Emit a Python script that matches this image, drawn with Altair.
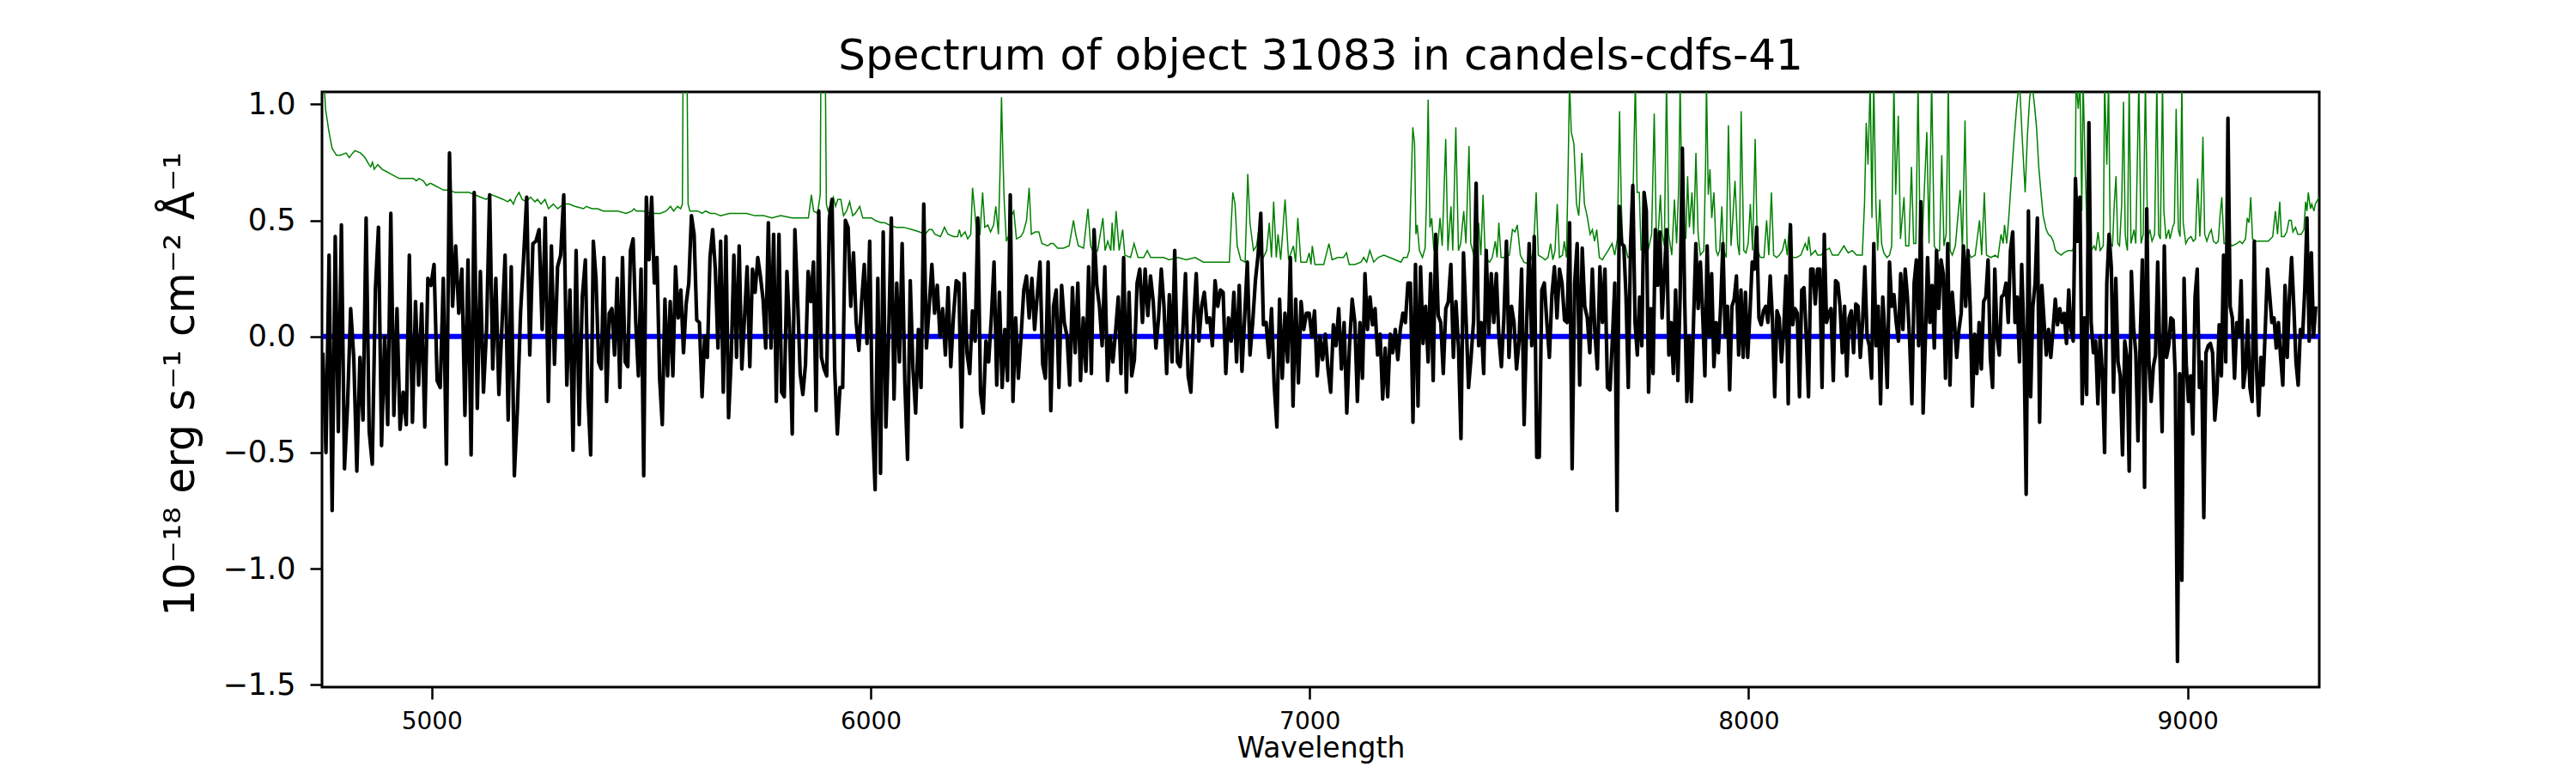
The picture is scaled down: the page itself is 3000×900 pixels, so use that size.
import altair as alt
import numpy as np
import pandas as pd

# ---------------- data ----------------
# Black spectrum: flux values per wavelength segment (evenly spread inside each segment)
SEG_EDGES = [4752, 5350, 5930, 6515, 7103, 7690, 8275, 8862, 9292]

FLUX_1 = [-0.07, -0.50, 0.35, -0.75, 0.43, -0.41, 0.48, -0.57, -0.29, 0.12,
          -0.09, -0.58, -0.09, -0.36, 0.51, -0.41, -0.55, 0.20, 0.47, -0.47,
          0.00, -0.38, 0.53, -0.34, 0.12, -0.40, -0.24, -0.38, 0.35, -0.37,
          0.15, -0.21, 0.14, -0.39, 0.25, 0.22, 0.31, -0.19, -0.22, 0.25,
          -0.55, 0.79, 0.13, 0.39, 0.10, 0.29, -0.34, 0.33, -0.51, 0.62,
          -0.31, 0.28, -0.24, 0.03, 0.61, -0.14, 0.25, -0.25, 0.05, 0.35,
          -0.36, 0.30, -0.60, -0.31, 0.10, 0.34, 0.60, -0.08, 0.40, 0.41,
          0.46, 0.03, 0.51, -0.28, 0.39, -0.12, 0.30, 0.35, 0.61, -0.21,
          0.20, -0.49, 0.37, -0.38, 0.17]

FLUX_2 = [0.33, -0.26, -0.51, 0.41, 0.25, -0.11, -0.14, 0.34, -0.28, 0.10,
          0.12, -0.08, 0.25, -0.22, 0.34, -0.11, -0.13, 0.37, 0.42, 0.06,
          -0.17, 0.29, -0.60, 0.60, 0.33, 0.60, 0.23, 0.34, -0.18, -0.38,
          0.16, -0.17, 0.15, -0.17, 0.30, 0.08, 0.20, -0.07, 0.14, 0.23,
          0.52, 0.44, 0.07, 0.06, -0.26, 0.00, -0.09, 0.34, 0.46, 0.29,
          -0.05, 0.41, -0.24, 0.43, -0.35, -0.09, 0.35, -0.09, 0.39, -0.14,
          0.08, 0.30, -0.13, 0.29, 0.19, 0.34, 0.26, 0.16, -0.05, 0.49,
          -0.05, 0.44, -0.28, 0.44, -0.24, -0.26, 0.28, 0.03, -0.42, 0.46,
          0.17, -0.16, -0.25, -0.12, 0.28, 0.15, 0.32, -0.32, 0.54, -0.09,
          -0.14, -0.17, 0.51, 0.59, -0.14, -0.42]

FLUX_3 = [-0.22, -0.22, 0.50, 0.47, 0.13, 0.36, 0.06, -0.06, 0.15, 0.31,
          -0.03, 0.41, -0.36, -0.66, 0.25, -0.59, 0.45, -0.39, 0.00, 0.51,
          -0.27, 0.23, -0.11, 0.40, -0.20, -0.53, 0.24, -0.14, -0.33, 0.03,
          -0.22, 0.57, -0.05, 0.13, 0.31, 0.10, 0.22, 0.00, 0.12, -0.08,
          0.21, -0.13, 0.09, 0.24, 0.23, -0.39, 0.27, -0.07, -0.16, 0.11,
          -0.02, 0.51, -0.24, -0.33, -0.02, -0.11, 0.08, 0.32, -0.21, 0.19,
          -0.22, 0.03, -0.19, 0.61, -0.28, 0.08, -0.18, 0.00, 0.20, 0.26,
          0.08, 0.25, 0.03, 0.18, 0.32, -0.12, -0.18, 0.32, -0.32, 0.13,
          0.20, -0.22, 0.22, 0.06, 0.00, -0.21, 0.21, -0.07, 0.23, -0.19,
          0.08, -0.15, 0.30, -0.16, 0.46]

FLUX_4 = [0.22, 0.13, -0.04, 0.30, -0.19, 0.00, -0.11, 0.02, 0.17, -0.16,
          0.34, -0.24, 0.19, -0.17, -0.10, 0.23, 0.29, 0.06, 0.29, 0.09,
          0.26, 0.15, -0.05, 0.08, 0.29, 0.13, -0.16, 0.18, -0.11, 0.37,
          -0.11, -0.13, 0.02, 0.27, -0.17, -0.24, 0.06, 0.27, -0.02, 0.13,
          0.19, 0.06, 0.08, -0.04, 0.24, 0.13, 0.20, 0.19, -0.16, 0.08,
          -0.02, 0.19, -0.11, 0.22, -0.15, 0.08, 0.32, -0.08, 0.06, 0.24,
          0.35, 0.53, 0.05, 0.06, -0.09, 0.12, -0.21, -0.39, 0.16, -0.18,
          0.10, -0.11, 0.34, -0.30, 0.16, -0.20, 0.15, 0.03, 0.10, 0.10,
          0.00, 0.11, -0.17, 0.00, -0.10, 0.01, -0.14, -0.24, 0.05, -0.04,
          0.12, -0.14, 0.06, -0.33, -0.04, 0.16]

FLUX_5 = [0.06, -0.28, 0.06, -0.18, 0.27, 0.03, 0.17, 0.05, 0.12, -0.08,
          0.01, -0.27, -0.05, -0.26, 0.01, -0.07, 0.03, -0.10, 0.03, 0.10,
          0.06, 0.23, 0.23, -0.37, 0.31, -0.30, 0.30, -0.03, 0.13, -0.11,
          0.27, -0.19, 0.44, 0.09, 0.06, -0.16, 0.12, 0.15, 0.31, -0.09,
          0.15, -0.04, -0.44, 0.36, 0.08, -0.22, -0.09, 0.07, 0.66, -0.04,
          0.06, -0.16, 0.37, 0.01, 0.27, 0.06, 0.27, 0.00, -0.13, 0.08,
          0.41, -0.09, 0.13, 0.06, -0.14, -0.02, 0.29, -0.38, 0.06, 0.40,
          -0.04, 0.43, -0.52, -0.52, 0.20, 0.23, 0.06, -0.09, 0.18, 0.30,
          0.08, 0.29, 0.23, 0.07, 0.06, 0.49, -0.57, 0.23, 0.40, -0.21,
          0.38, 0.13, 0.08, -0.07, 0.29, 0.02, -0.14, 0.30, 0.06, 0.29,
          -0.22, -0.23]

FLUX_6 = [0.00, 0.23, -0.75, 0.56, 0.40, 0.39, 0.17, -0.22, 0.39, 0.65,
          0.06, -0.08, 0.17, -0.04, 0.62, 0.54, -0.24, 0.12, -0.16, 0.46,
          0.22, 0.45, 0.08, 0.27, 0.46, -0.08, 0.06, -0.16, 0.20, -0.19,
          0.17, 0.81, 0.17, -0.28, 0.00, -0.28, 0.08, 0.40, 0.12, 0.32,
          0.10, -0.17, 0.39, 0.00, 0.27, -0.13, 0.06, -0.07, 0.13, 0.40,
          0.00, 0.13, -0.23, 0.13, 0.16, 0.26, -0.08, 0.20, -0.09, 0.19,
          -0.09, 0.10, 0.32, 0.29, 0.47, 0.08, 0.05, 0.11, 0.13, 0.06,
          0.26, 0.07, -0.26, 0.11, 0.08, -0.11, 0.03, 0.26, -0.29, 0.48,
          0.05, 0.12, 0.10, -0.26, 0.20, 0.21, 0.00, -0.26, 0.29, 0.29,
          0.14, 0.29, 0.29, -0.22, 0.44, 0.06, 0.10, 0.12, -0.19, 0.24,
          0.23, 0.13, -0.07, 0.13, -0.17, 0.08, 0.11, -0.07, 0.14, 0.13,
          -0.09, 0.06, 0.30, 0.00]

FLUX_7 = [-0.04, -0.18, 0.40, -0.04, 0.13, -0.29, 0.17, 0.00, -0.22, 0.32,
          0.13, 0.18, 0.06, -0.02, 0.27, 0.03, 0.29, 0.17, -0.02, -0.29,
          0.23, 0.33, -0.04, 0.58, -0.33, -0.02, 0.34, 0.06, 0.22, -0.05,
          0.37, 0.12, 0.33, 0.27, -0.18, 0.40, -0.21, 0.19, 0.06, -0.09,
          0.03, 0.10, 0.39, 0.13, 0.37, 0.13, -0.30, 0.01, -0.16, 0.06,
          -0.14, 0.15, 0.17, 0.33, -0.09, -0.22, 0.29, 0.00, -0.08, 0.17,
          0.18, 0.23, 0.06, 0.37, 0.45, 0.06, 0.17, -0.11, 0.31, 0.00,
          -0.68, 0.54, -0.26, 0.13, 0.23, 0.51, -0.37, 0.22, 0.06, -0.08,
          0.03, -0.09, 0.03, 0.16, 0.05, 0.12, 0.06, 0.10, -0.03, 0.20,
          0.03, -0.02, 0.68, 0.41, 0.60, -0.29, 0.08, -0.25, 0.92, 0.06,
          -0.07, -0.02, -0.29, 0.00, -0.16, -0.50, 0.23, 0.44, 0.30, -0.24,
          0.25, -0.11, -0.17, -0.51, -0.02]

FLUX_8 = [-0.09, -0.58, 0.28, 0.04, -0.07, -0.45, -0.02, 0.33, -0.65, 0.55,
          -0.11, -0.28, -0.13, -0.08, 0.32, -0.09, -0.41, 0.39, -0.09, -0.04,
          0.08, 0.07, -0.17, -1.40, -0.16, -1.05, 0.25, -0.12, -0.28, -0.17,
          -0.42, 0.17, 0.29, -0.22, -0.11, -0.78, -0.07, -0.04, -0.03, -0.07,
          -0.36, -0.24, 0.05, -0.17, 0.35, -0.11, 0.94, 0.13, 0.08, -0.18,
          0.06, 0.00, 0.24, -0.22, -0.14, 0.07, -0.22, -0.28, 0.41, -0.14,
          -0.34, -0.09, -0.21, 0.03, 0.29, 0.18, 0.06, 0.08, -0.05, 0.06,
          -0.09, -0.21, 0.22, -0.09, 0.17, 0.34, 0.13, -0.11, -0.21, 0.03,
          0.00, 0.20, 0.51, -0.02, 0.36, 0.00, 0.13]

# Green (sky / noise) spectrum: wavelengths and values
GREEN_WL = [
    4752, 4756, 4758, 4766, 4773, 4783, 4792, 4805, 4812, 4820, 4825, 4838, 4848, 4857, 4861,
    4865, 4869, 4877, 4887, 4897, 4906, 4916, 4926, 4936, 4949, 4958, 4965, 4971, 4981, 4988,
    4997, 5007, 5017, 5027, 5040, 5053, 5066, 5085, 5098, 5111, 5124, 5137, 5150, 5163, 5173,
    5179, 5186, 5192, 5199, 5206, 5215, 5225, 5235, 5241, 5249, 5258, 5266, 5277, 5287, 5300,
    5313, 5326, 5346,
    5352, 5365, 5378, 5391, 5404, 5424, 5443, 5456, 5461, 5466, 5482, 5502, 5521, 5534, 5544,
    5551, 5560, 5567, 5571, 5573, 5577, 5581, 5584, 5588, 5596, 5606, 5616, 5624, 5635, 5645,
    5658, 5678, 5697, 5717, 5736, 5756, 5775, 5795, 5821, 5847, 5858, 5865, 5870, 5879, 5885,
    5887, 5892, 5896, 5899, 5903, 5909, 5915, 5920, 5925,
    5932, 5938, 5945, 5952, 5959, 5965, 5975, 5982, 5993, 6002, 6010, 6023, 6032, 6042, 6058,
    6075, 6094, 6111, 6124, 6133, 6140, 6146, 6159, 6168, 6176, 6189, 6198, 6202, 6206, 6215,
    6221, 6228, 6232, 6237, 6242, 6249, 6255, 6260, 6267, 6273, 6280, 6285, 6291, 6295, 6298,
    6301, 6304, 6309, 6316, 6321, 6326, 6332, 6342, 6348, 6355, 6361, 6366, 6375, 6383, 6390,
    6403, 6410, 6416, 6426, 6439, 6452, 6462, 6467, 6473, 6485, 6495, 6501, 6508, 6517,
    6529, 6534, 6540, 6547, 6550, 6554, 6559, 6566, 6574, 6579, 6592, 6600, 6609, 6622, 6630,
    6638, 6654, 6667, 6680, 6700, 6719, 6739, 6758, 6784, 6817, 6822, 6825, 6830, 6835, 6843,
    6853, 6859, 6864, 6872, 6879, 6885, 6892, 6902, 6908, 6913, 6918, 6924, 6928, 6934, 6944,
    6952, 6963, 6968, 6973, 6980, 6993, 6999, 7003, 7006, 7012, 7032, 7044, 7051, 7064, 7077,
    7084, 7090, 7103,
    7117, 7123, 7130, 7137, 7146, 7156, 7169, 7182, 7195, 7208, 7214, 7222, 7227, 7230, 7235,
    7239, 7242, 7245, 7250, 7257, 7263, 7266, 7270, 7274, 7278, 7283, 7287, 7291, 7297, 7302,
    7310, 7315, 7322, 7326, 7333, 7339, 7344, 7351, 7356, 7363, 7367, 7374, 7380, 7385, 7390,
    7395, 7400, 7410, 7416, 7423, 7427, 7431, 7436, 7445, 7455, 7462, 7468, 7473, 7480, 7488,
    7501, 7510, 7516, 7521, 7530, 7536, 7543, 7549, 7554, 7559, 7564, 7569, 7576, 7580, 7585,
    7589, 7592, 7596, 7602, 7608, 7613, 7617, 7620, 7626, 7632, 7639, 7644, 7649, 7654, 7660,
    7667, 7673, 7680, 7689,
    7695, 7701, 7706, 7710, 7714, 7719, 7725, 7732, 7737, 7742, 7746, 7751, 7755, 7761, 7766,
    7771, 7779, 7785, 7790, 7795, 7799, 7803, 7808, 7813, 7818, 7825, 7831, 7836, 7841, 7844,
    7848, 7852, 7857, 7861, 7865, 7871, 7875, 7880, 7885, 7890, 7898, 7902, 7904, 7908, 7912,
    7916, 7921, 7926, 7930, 7934, 7939, 7943, 7949, 7954, 7960, 7964, 7969, 7975, 7979, 7983,
    7989, 7994, 7999, 8004, 8009, 8015, 8020, 8027, 8035, 8041, 8046, 8052, 8057, 8064, 8070,
    8077, 8083, 8088, 8093, 8100, 8109, 8119, 8129, 8134, 8137, 8142, 8152, 8157, 8165, 8175,
    8184, 8191, 8204, 8217, 8227, 8236, 8246, 8259, 8264, 8268, 8272,
    8277, 8281, 8285, 8290, 8294, 8299, 8303, 8308, 8315, 8321, 8326, 8331, 8335, 8341, 8346,
    8354, 8358, 8365, 8371, 8376, 8381, 8386, 8391, 8396, 8401, 8406, 8411, 8417, 8423, 8428,
    8435, 8440, 8445, 8450, 8455, 8459, 8464, 8471, 8482, 8487, 8493, 8498, 8507, 8516, 8526,
    8531, 8537, 8542, 8552, 8562, 8568, 8575, 8580, 8583, 8588, 8593, 8598, 8604, 8611, 8617,
    8624, 8630, 8635, 8640, 8645, 8651, 8656, 8661, 8666, 8671, 8678, 8683, 8689, 8694, 8699,
    8705, 8712, 8718, 8728, 8738, 8743, 8746, 8751, 8755, 8759, 8762, 8767, 8772, 8780, 8787,
    8791, 8796, 8801, 8808, 8811, 8816, 8820, 8824, 8829, 8833, 8837, 8841, 8845, 8850, 8854,
    8858, 8861,
    8863, 8867, 8871, 8878, 8882, 8889, 8894, 8899, 8904, 8909, 8914, 8919, 8925, 8930, 8934,
    8938, 8943, 8946, 8951, 8957, 8960, 8966, 8970, 8974, 8979, 8983, 8987, 8990, 8996, 9001,
    9008, 9013, 9018, 9023, 9028, 9031, 9035, 9039, 9044, 9049, 9054, 9059, 9065, 9070, 9074,
    9078, 9083, 9093, 9102, 9112, 9119, 9125, 9132, 9136, 9140, 9144, 9148, 9154, 9164, 9174,
    9184, 9194, 9200, 9205, 9210, 9214, 9220, 9226, 9231, 9236, 9240, 9246, 9251, 9259, 9265,
    9269, 9272, 9275, 9280, 9283, 9288, 9291, 9300]

GREEN_FLUX = [
    1.25, 1.05, 0.98, 0.88, 0.81, 0.78, 0.78, 0.79, 0.77, 0.79, 0.80, 0.79, 0.77, 0.74, 0.73,
    0.75, 0.72, 0.74, 0.72, 0.71, 0.70, 0.69, 0.68, 0.68, 0.68, 0.68, 0.67, 0.68, 0.67, 0.65,
    0.66, 0.65, 0.64, 0.63, 0.63, 0.62, 0.62, 0.62, 0.61, 0.60, 0.59, 0.61, 0.60, 0.59, 0.58,
    0.59, 0.57, 0.60, 0.62, 0.59, 0.58, 0.60, 0.58, 0.59, 0.57, 0.59, 0.55, 0.57, 0.55, 0.57,
    0.57, 0.56, 0.55,
    0.56, 0.55, 0.55, 0.54, 0.54, 0.54, 0.53, 0.54, 0.55, 0.54, 0.54, 0.53, 0.53, 0.54, 0.56,
    0.54, 0.56, 0.55, 0.57, 1.30, 1.60, 1.30, 0.57, 0.54, 0.54, 0.54, 0.53, 0.54, 0.53, 0.53,
    0.52, 0.53, 0.53, 0.53, 0.52, 0.52, 0.51, 0.52, 0.51, 0.51, 0.51, 0.61, 0.54, 0.53, 0.61,
    1.30, 1.30, 1.30, 0.57, 0.54, 0.57, 0.60, 0.56, 0.59,
    0.59, 0.52, 0.54, 0.58, 0.52, 0.53, 0.56, 0.51, 0.51, 0.51, 0.50, 0.49, 0.49, 0.48, 0.47,
    0.47, 0.46, 0.45, 0.44, 0.46, 0.46, 0.44, 0.43, 0.47, 0.44, 0.43, 0.43, 0.46, 0.43, 0.45,
    0.42, 0.44, 0.64, 0.54, 0.43, 0.44, 0.62, 0.47, 0.48, 0.45, 0.48, 0.56, 0.44, 0.74, 1.03,
    0.79, 0.59, 0.41, 0.44, 0.52, 0.54, 0.42, 0.43, 0.45, 0.50, 0.64, 0.44, 0.45, 0.45, 0.40,
    0.39, 0.40, 0.40, 0.38, 0.38, 0.39, 0.50, 0.44, 0.39, 0.38, 0.55, 0.39, 0.36, 0.37,
    0.51, 0.37, 0.41, 0.37, 0.49, 0.37, 0.54, 0.37, 0.46, 0.35, 0.34, 0.40, 0.34, 0.34, 0.37,
    0.34, 0.34, 0.34, 0.33, 0.34, 0.33, 0.34, 0.32, 0.32, 0.32, 0.51, 0.62, 0.57, 0.39, 0.33,
    0.32, 0.70, 0.49, 0.37, 0.39, 0.47, 0.33, 0.37, 0.49, 0.34, 0.58, 0.34, 0.44, 0.33, 0.59,
    0.33, 0.39, 0.32, 0.51, 0.32, 0.32, 0.36, 0.31, 0.39, 0.31, 0.31, 0.40, 0.33, 0.34, 0.34,
    0.36, 0.31, 0.31,
    0.32, 0.34, 0.32, 0.37, 0.32, 0.34, 0.35, 0.34, 0.33, 0.32, 0.34, 0.34, 0.37, 0.57, 0.90,
    0.83, 0.44, 0.48, 0.37, 0.34, 0.38, 0.57, 1.02, 0.47, 0.51, 0.37, 0.43, 0.37, 0.51, 0.39,
    0.85, 0.37, 0.56, 0.37, 0.90, 0.37, 0.40, 0.54, 0.40, 0.82, 0.40, 0.35, 0.34, 0.49, 0.35,
    0.61, 0.34, 0.32, 0.34, 0.41, 0.34, 0.49, 0.34, 0.34, 0.35, 0.46, 0.45, 0.48, 0.35, 0.32,
    0.31, 0.37, 0.62, 0.35, 0.34, 0.33, 0.34, 0.40, 0.33, 0.37, 0.57, 0.34, 0.35, 0.41, 0.34,
    0.74, 1.10, 0.88, 0.83, 0.57, 0.52, 0.66, 0.79, 0.57, 0.52, 0.44, 0.46, 0.41, 0.46, 0.34,
    0.33, 0.35, 0.37, 0.40,
    0.35, 0.42, 0.97, 0.57, 0.37, 0.39, 0.34, 0.35, 0.64, 1.10, 0.62, 0.62, 0.37, 0.40, 0.59,
    0.37, 0.44, 0.96, 0.40, 0.47, 0.61, 0.44, 0.39, 1.10, 0.44, 0.35, 0.59, 0.40, 0.66, 1.10,
    0.57, 0.46, 0.42, 0.69, 0.47, 0.62, 0.44, 0.79, 0.44, 0.35, 0.37, 0.74, 1.10, 0.61, 0.72,
    0.51, 0.62, 0.37, 0.35, 0.37, 0.56, 0.37, 0.34, 0.91, 0.39, 0.51, 0.67, 0.40, 0.35, 0.97,
    0.37, 0.36, 0.40, 0.57, 0.37, 0.85, 0.37, 0.34, 0.34, 0.50, 0.35, 0.62, 0.35, 0.34, 0.35,
    0.37, 0.42, 0.35, 0.49, 0.34, 0.34, 0.35, 0.40, 0.37, 0.43, 0.35, 0.37, 0.35, 0.35, 0.37,
    0.38, 0.35, 0.35, 0.39, 0.36, 0.37, 0.35, 0.35, 0.57, 0.92, 0.74,
    1.10, 0.51, 1.10, 0.57, 0.37, 0.59, 0.40, 0.36, 0.34, 0.35, 0.39, 1.10, 0.61, 0.95, 0.42,
    0.60, 0.39, 0.39, 0.73, 0.40, 0.40, 1.10, 0.37, 0.44, 0.66, 0.88, 0.40, 1.10, 0.39, 0.37,
    0.37, 0.78, 0.39, 0.44, 1.10, 0.37, 0.35, 0.39, 0.63, 0.37, 0.93, 0.37, 0.34, 0.35, 0.50,
    0.35, 0.62, 0.35, 0.34, 0.35, 0.34, 0.44, 0.40, 0.48, 0.40, 0.52, 0.66, 0.83, 1.00, 1.10,
    0.83, 0.62, 0.86, 1.02, 1.10, 1.00, 0.90, 0.73, 0.62, 0.52, 0.46, 0.44, 0.43, 0.41, 0.37,
    0.36, 0.35, 0.36, 0.37, 0.37, 0.40, 1.10, 0.98, 1.10, 0.54, 1.10, 0.71, 0.37, 0.37, 0.39,
    0.37, 0.45, 0.37, 0.39, 1.10, 0.74, 1.10, 0.40, 0.39, 0.57, 0.69, 0.40, 0.39, 0.57, 1.01,
    0.44, 0.39,
    0.37, 1.10, 0.40, 0.46, 0.40, 1.10, 0.40, 0.44, 1.10, 0.42, 0.46, 0.41, 0.44, 1.10, 0.44,
    0.42, 1.10, 0.54, 0.42, 0.46, 0.42, 0.47, 0.49, 0.98, 0.46, 0.43, 1.10, 0.49, 0.40, 0.42,
    0.43, 0.41, 0.42, 0.68, 0.43, 0.57, 0.86, 0.44, 0.41, 0.44, 0.46, 0.41, 0.40, 0.41, 0.52,
    0.60, 0.40, 0.40, 0.39, 0.40, 0.41, 0.40, 0.42, 0.51, 0.49, 0.60, 0.42, 0.41, 0.41, 0.41,
    0.41, 0.43, 0.54, 0.44, 0.58, 0.43, 0.43, 0.45, 0.50, 0.50, 0.45, 0.47, 0.44, 0.44, 0.46,
    0.58, 0.54, 0.62, 0.55, 0.57, 0.54, 0.57, 0.60]

# Blue model (flat at zero)
MODEL_WL = [4752, 9300]
MODEL_FLUX = [0.0, 0.0]

TITLE = "Spectrum of object 31083 in candels-cdfs-41"
X_TITLE = "Wavelength"
Y_TITLE = "10\u207b\u00b9\u2078 erg s\u207b\u00b9 cm\u207b\u00b2 \u00c5\u207b\u00b9"
X_TICKS = [5000, 6000, 7000, 8000, 9000]
Y_TICKS = [-1.5, -1.0, -0.5, 0.0, 0.5, 1.0]

# ---------------- build tables ----------------
segments = [FLUX_1, FLUX_2, FLUX_3, FLUX_4, FLUX_5, FLUX_6, FLUX_7, FLUX_8]
wl_all, fl_all = [], []
for i, seg in enumerate(segments):
    last = i == len(segments) - 1
    w = np.linspace(SEG_EDGES[i], SEG_EDGES[i + 1], len(seg), endpoint=last)
    wl_all.extend(w.tolist())
    fl_all.extend(seg)
black_df = pd.DataFrame({"wl": wl_all, "flux": fl_all})
green_df = pd.DataFrame({"wl": GREEN_WL, "flux": GREEN_FLUX})
blue_df = pd.DataFrame({"wl": MODEL_WL, "flux": MODEL_FLUX})

FONT = "DejaVu Sans"

x_enc = alt.X(
    "wl:Q",
    scale=alt.Scale(domain=[4750, 9300], nice=False, zero=False),
    axis=alt.Axis(
        values=X_TICKS, format="d", title=X_TITLE,
        labelFontSize=28, tickSize=14, tickWidth=2.5, labelPadding=12,
        titleFontSize=33, titleFontWeight="normal",
        titleX=1163, titleY=81, titleAlign="center", titleBaseline="alphabetic",
    ),
)
y_enc = alt.Y(
    "flux:Q",
    scale=alt.Scale(domain=[-1.51, 1.053], nice=False, zero=False),
    axis=alt.Axis(
        values=Y_TICKS, format=".1f", title=Y_TITLE,
        labelFontSize=35, tickSize=14, tickWidth=2.5, labelPadding=17,
        titleFontSize=49, titleFontWeight="normal", titleAngle=270,
        titleX=-150, titleY=340, titleAlign="center", titleBaseline="alphabetic",
    ),
)

green = alt.Chart(green_df).mark_line(color="#008000", strokeWidth=1.5, clip=True).encode(x=x_enc, y=y_enc)
blue = alt.Chart(blue_df).mark_line(color="#0000ff", strokeWidth=6, clip=True).encode(x=x_enc, y=y_enc)
black = alt.Chart(black_df).mark_line(color="#000000", strokeWidth=4.2, strokeJoin="round", clip=True).encode(x=x_enc, y=y_enc)

chart = (
    alt.layer(green, blue, black)
    .properties(
        width=2326,
        height=693,
        title=alt.TitleParams(TITLE),
        autosize=alt.AutoSizeParams(type="none"),
        padding={"left": 367, "top": 99, "right": 280, "bottom": 100},
    )
    .configure(font=FONT, background="white")
    .configure_view(stroke="black", strokeWidth=3)
    .configure_axis(
        grid=False, domain=False, tickColor="black", labelColor="black", titleColor="black",
        labelFont=FONT, titleFont=FONT,
    )
    .configure_title(
        font=FONT, fontSize=50, fontWeight="normal", color="black",
        anchor="middle", offset=13, baseline="alphabetic",
    )
)

chart.save("out.html", embed_options={"renderer": "svg", "actions": False})
